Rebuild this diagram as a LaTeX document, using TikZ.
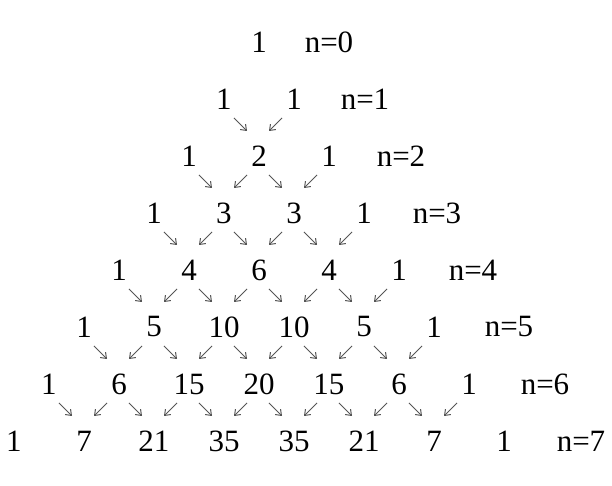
\documentclass[tikz,border=0pt]{standalone}
\usepackage{fontspec}
\setmainfont{Liberation Serif}
\usepackage{tikz}
\usetikzlibrary{arrows.meta}
\definecolor{pilgris}{RGB}{85,85,85}

\begin{document}
\begin{tikzpicture}[
  x=0.5pt, y=-0.5pt,
  num/.style={inner sep=0pt, font=\fontsize{15.5}{18}\selectfont},
  flecha/.style={-{Straight Barb[length=2.5pt, width=3.8pt]}, line width=0.5pt, color=pilgris}
]
\useasboundingbox (0,0) rectangle (612,486);

% rows of the triangle
\foreach \n in {0,...,7} {
  \foreach \k in {0,...,\n} {
    \pgfmathtruncatemacro\val{factorial(\n)/(factorial(\k)*factorial(\n-\k))}
    \node[num] (p\n-\k) at ({259+(2*\k-\n)*35}, {42+\n*57}) {\val};
  }
  \node[num] (lab\n) at ({329+\n*36}, {42+\n*57}) {n=\n};
}

% small arrows into the inner entries
\foreach \n in {2,...,7} {
  \pgfmathtruncatemacro\last{\n-1}
  \foreach \k in {1,...,\last} {
    \draw[flecha] ([shift={(-25,-38)}]p\n-\k.center) -- ([shift={(-12,-25)}]p\n-\k.center);
    \draw[flecha] ([shift={(23,-38)}]p\n-\k.center) -- ([shift={(10,-25)}]p\n-\k.center);
  }
}
\end{tikzpicture}
\end{document}
